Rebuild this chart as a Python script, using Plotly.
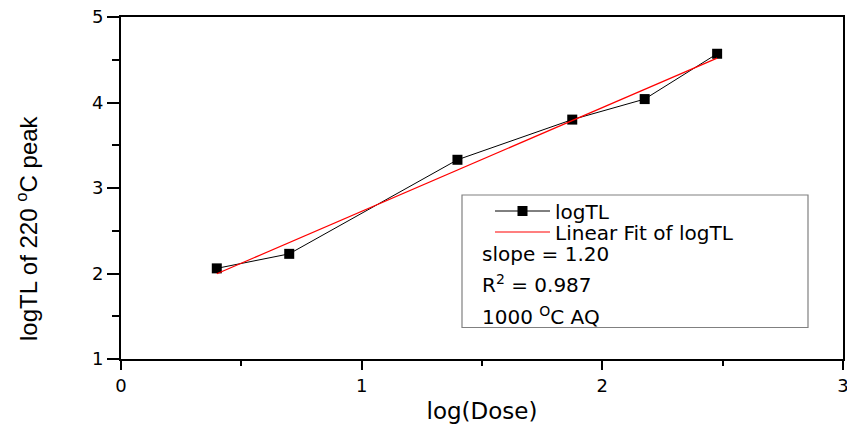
import numpy as np
import plotly.graph_objects as go

# Data
log_dose = [0.398, 0.699, 1.398, 1.875, 2.176, 2.477]
log_tl = [2.06, 2.23, 3.33, 3.80, 4.04, 4.57]

x_ticks = [0, 1, 2, 3]
y_ticks = [1, 2, 3, 4, 5]

slope_text = "slope = 1.20"
r2_text = "R<sup>2</sup> = 0.987"
cond_text = "1000 <sup>O</sup>C AQ"

# Linear fit computed from the data
p = np.polyfit(log_dose, log_tl, 1)
fit_x = [min(log_dose), max(log_dose)]
fit_y = [p[0] * v + p[1] for v in fit_x]

W, H = 847, 424
L, R, T, B = 121, 4, 17, 65
pw, ph = W - L - R, H - T - B

def px(xp):
    return (xp - L) / pw

def py(yp):
    return 1 - (yp - T) / ph

fig = go.Figure()
fig.add_trace(go.Scatter(
    x=log_dose, y=log_tl, mode="lines+markers", name="logTL",
    line=dict(color="black", width=1),
    marker=dict(symbol="square", size=10, color="black"),
    legend="legend",
))
fig.add_trace(go.Scatter(
    x=fit_x, y=fit_y, mode="lines", name="Linear Fit of logTL",
    line=dict(color="red", width=1.2),
    legend="legend2",
))

font_main = "DejaVu Sans"
TXT = 20

axis_common = dict(
    showline=True, linecolor="black", linewidth=2, mirror=True,
    ticks="outside", tickcolor="black", tickwidth=2,
    showgrid=False, zeroline=False, automargin=False,
    ticklabeloverflow="allow",
    tickfont=dict(family=font_main, size=18, color="black"),
)

fig.update_xaxes(
    range=[0, 3], tickvals=x_ticks, ticklen=9,
    minor=dict(dtick=0.5, ticks="outside", ticklen=5, tickcolor="black", tickwidth=2),
    title=dict(text="log(Dose)", font=dict(family=font_main, size=23, color="black"), standoff=8),
    **axis_common,
)
fig.update_yaxes(
    range=[1, 5], tickvals=y_ticks, ticklen=12,
    minor=dict(dtick=0.5, ticks="outside", ticklen=7, tickcolor="black", tickwidth=2),
    **axis_common,
)

fig.add_annotation(
    text="logTL of 220 <sup>o</sup>C peak", xref="paper", yref="paper",
    x=px(27), y=py(228), textangle=-90, showarrow=False,
    xanchor="center", yanchor="middle",
    font=dict(family="Liberation Sans", size=24, color="black"),
)

# Legend box
fig.add_shape(type="rect", xref="paper", yref="paper",
              x0=px(462), x1=px(808), y0=py(327.5), y1=py(195),
              line=dict(color="#808080", width=1.2), fillcolor="rgba(0,0,0,0)")

for txt, yc in [(slope_text, 254), (r2_text, 284), (cond_text, 316)]:
    fig.add_annotation(
        text=txt, xref="paper", yref="paper", x=px(480), y=py(yc),
        xanchor="left", yanchor="middle", showarrow=False,
        font=dict(family=font_main, size=TXT, color="black"),
    )

leg_common = dict(
    xanchor="left", yanchor="middle",
    bgcolor="rgba(0,0,0,0)", borderwidth=0,
    font=dict(family=font_main, size=TXT, color="black"),
    itemwidth=55,
)

fig.update_layout(
    width=W, height=H,
    margin=dict(l=L, r=R, t=T, b=B),
    paper_bgcolor="white", plot_bgcolor="white",
    showlegend=True,
    legend=dict(x=px(490), y=py(211), **leg_common),
    legend2=dict(x=px(490), y=py(232), **leg_common),
)

fig.write_html(
    "out.html",
    config={"displayModeBar": False},
    post_script="document.body.style.margin='0';document.body.style.overflow='hidden';",
)
